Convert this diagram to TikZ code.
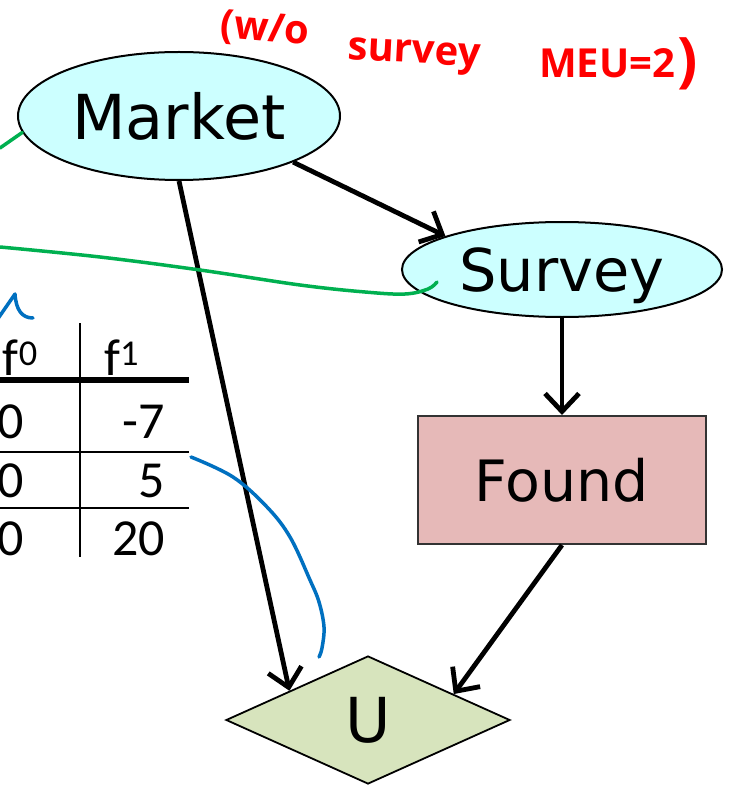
\documentclass[tikz,border=0pt]{standalone}
\usepackage{fontspec}
\setmainfont{DejaVu Sans}
\newfontfamily\tablefont{Carlito}
\newfontfamily\notefont{Open Sans}
\usetikzlibrary{shapes.geometric,arrows.meta,calc}

\definecolor{chancefill}{HTML}{CCFFFF}
\definecolor{decisionfill}{HTML}{E6B9B8}
\definecolor{utilityfill}{HTML}{D7E4BD}
\definecolor{inkgreen}{HTML}{00B050}
\definecolor{inkblue}{HTML}{0070C0}
\definecolor{inkred}{HTML}{FF0000}

\tikzset{
  chance/.style={ellipse, draw=black, line width=2pt, fill=chancefill, inner sep=0pt},
  decision/.style={rectangle, draw=black!80, line width=2pt, fill=decisionfill, inner sep=0pt,
    minimum width=288pt, minimum height=128pt},
  utility/.style={diamond, draw=black, line width=1.8pt, fill=utilityfill, inner sep=0pt, aspect=2,
    minimum width=284pt, minimum height=128pt},
  influence/.style={line width=4.8pt, -{Straight Barb[length=18pt,width=34pt,line width=4.8pt]}},
  greenink/.style={inkgreen, line width=3.5pt, line cap=round},
  blueink/.style={inkblue, line width=3.5pt, line cap=round, line join=round},
  rednote/.style={inkred, inner sep=0pt, font=\notefont\bfseries\fontsize{40}{40}\selectfont},
  tabtext/.style={inner sep=0pt, font=\tablefont\fontsize{52}{52}\selectfont},
  tabrule/.style={line width=2.8pt},
}

\begin{document}
\begin{tikzpicture}[x=1pt,y=-1pt]
\useasboundingbox (0,0) rectangle (730,786);
\clip (0,0) rectangle (730,786);
\fill[white] (0,0) rectangle (730,786);

% decision network nodes
\node[chance, minimum width=322pt, minimum height=128pt,
      font=\fontsize{62}{62}\selectfont] (market) at (179,116) {Market};
\node[chance, minimum width=320pt, minimum height=95pt, text depth=0pt,
      font=\fontsize{59}{59}\selectfont] (survey) at (562,269.5) {Survey};
\node[decision, font=\fontsize{57}{57}\selectfont] (found) at (562,480) {Found};
\node[utility, font=\fontsize{62}{62}\selectfont] (u) at (368,720) {U};

% influences
\draw[influence] (market.-22) -- (survey.164);
\draw[influence] (survey.south) -- (found.north);
\draw[influence] (market.south) -- ($(u.north)!0.55!(u.west)$);
\draw[influence] (found.south) -- ($(u.north)!0.6!(u.east)$);

% payoff table
\node[tabtext, anchor=base east] (h0) at (38,375) {f\textsuperscript{0}};
\node[tabtext, anchor=base west] (h1) at (104,375) {f\textsuperscript{1}};
\node[tabtext, anchor=base east] (a0) at (24,438) {0};
\node[tabtext, anchor=base east] (b0) at (24,497) {0};
\node[tabtext, anchor=base east] (c0) at (24,555) {0};
\node[tabtext, anchor=base east] (a1) at (165,438) {-7};
\node[tabtext, anchor=base east] (b1) at (165,497) {5};
\node[tabtext, anchor=base east] (c1) at (165,555) {20};
\draw[tabrule] (80,323) -- (80,557);
\draw[line width=5.5pt] (0,380) -- (189,380);
\draw[tabrule] (0,452) -- (189,452);
\draw[tabrule] (0,508) -- (189,508);

% handwritten annotations
\node[rednote, rotate=-5] (wo) at (265,30) {(w/o};
\node[rednote, rotate=-3, anchor=base] (sv) at (414,63) {survey};
\node[rednote, anchor=base, font=\notefont\bfseries\fontsize{40}{40}\selectfont] (meu) at (607,78) {MEU=2};
\node[rednote, font=\notefont\bfseries\fontsize{60}{60}\selectfont] (rp) at (688,64) {)};

\coordinate (gA) at (0,148);
\coordinate (gB) at (0,247);
\coordinate (gC) at (437,282);
\draw[greenink] (gA) -- (market.186);
\draw[greenink] plot[smooth, tension=0.6] coordinates
  {(gB) (100,257) (200,270) (300,285) (365,292) (405,294) (428,289) (gC)};

\coordinate (bA) at (191,457);
\coordinate (bB) at (319,657);
\draw[blueink] plot[smooth, tension=0.6] coordinates
  {(bA) (233,477) (267,507) (290,537) (310,580) (319,602) (324,627) (322,648) (bB)};
\coordinate (hA) at (-3,320);
\coordinate (hB) at (15,294);
\coordinate (hC) at (33,318);
\draw[blueink] (hA) -- (hB) .. controls (16,310) and (22,318) .. (hC);
\end{tikzpicture}
\end{document}
